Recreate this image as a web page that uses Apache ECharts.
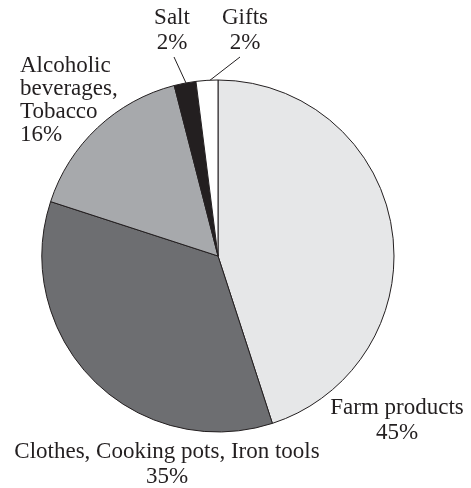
<!DOCTYPE html>
<html>
<head>
<meta charset="utf-8">
<script src="https://cdn.jsdelivr.net/npm/echarts@6/dist/echarts.min.js"></script>
<style>html,body{margin:0;padding:0;background:#fff}#c{width:471px;height:488px}</style>
</head>
<body>
<div id="c"></div>
<script>
const categories = ["Farm products", "Clothes, Cooking pots, Iron tools", "Alcoholic\nbeverages,\nTobacco", "Salt", "Gifts"];
const values = [45, 35, 16, 2, 2];
const colors = ["#e6e7e8", "#6d6e71", "#a7a9ac", "#231f20", "#ffffff"];

const labelPos = [
  {x: 397, y: 420, align: 'center', lh: 25},
  {x: 167, y: 464, align: 'center', lh: 25},
  {x: 20, y: 100, align: 'left', lh: 23},
  {x: 172, y: 30, align: 'center', lh: 25, line: [[174, 57], [186, 83]]},
  {x: 245, y: 30, align: 'center', lh: 25, line: [[240, 57], [209, 81]]}
];

const chart = echarts.init(document.getElementById('c'));
chart.setOption({
  animation: false,
  series: [{
    type: 'pie',
    center: [218, 256],
    radius: 176,
    startAngle: 90,
    clockwise: true,
    silent: true,
    avoidLabelOverlap: false,
    minShowLabelAngle: 0,
    itemStyle: {borderColor: '#231f20', borderWidth: 1},
    label: {
      show: true,
      position: 'outside',
      formatter: '{b}\n{d}%',
      fontFamily: "'Liberation Serif', 'Times New Roman', serif",
      fontSize: 23,
      color: '#231f20',
      overflow: 'none',
      width: 400
    },
    labelLine: {show: false},
    labelLayout: function (params) {
      const p = labelPos[params.dataIndex];
      const o = {x: p.x, y: p.y, align: p.align, verticalAlign: 'middle', hideOverlap: false};
      if (p.line) o.labelLinePoints = [p.line[0], p.line[0], p.line[1]];
      return o;
    },
    data: categories.map((c, i) => ({
      name: c,
      value: values[i],
      itemStyle: {color: colors[i]},
      label: {align: labelPos[i].align, lineHeight: labelPos[i].lh},
      labelLine: {show: !!labelPos[i].line, lineStyle: {color: '#231f20', width: 1}}
    }))
  }]
});
</script>
</body>
</html>
